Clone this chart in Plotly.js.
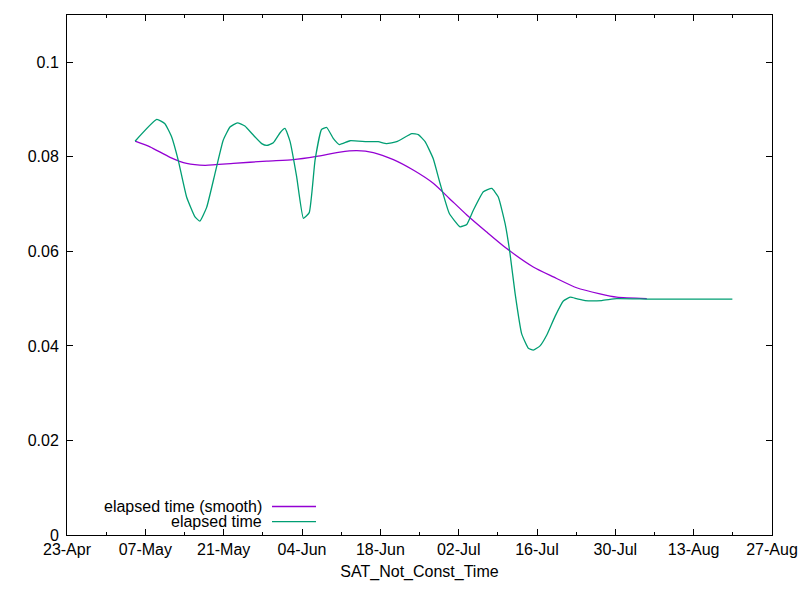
<!DOCTYPE html>
<html>
<head>
<meta charset="utf-8">
<script src="https://cdn.plot.ly/plotly-3.0.1.min.js"></script>
<style>
  html, body { margin: 0; padding: 0; background: #fff; }
  #chart { width: 800px; height: 600px; }
</style>
</head>
<body>
<div id="chart"></div>
<script>
// values
var rawDates = [
  '2023-05-05 04:00', '2023-05-09 01:00', '2023-05-10 12:00', '2023-05-11 17:00',
  '2023-05-12 21:00', '2023-05-14 09:00', '2023-05-15 21:00', '2023-05-16 18:00',
  '2023-05-17 23:00', '2023-05-19 11:00', '2023-05-20 22:00', '2023-05-22 03:00',
  '2023-05-23 11:00', '2023-05-24 19:00', '2023-05-26 07:00', '2023-05-27 19:00',
  '2023-05-28 17:00', '2023-05-29 21:00', '2023-05-31 02:00', '2023-05-31 23:00',
  '2023-06-01 21:00', '2023-06-03 01:00', '2023-06-04 06:00', '2023-06-05 07:00',
  '2023-06-06 08:00', '2023-06-07 12:00', '2023-06-08 10:00', '2023-06-09 14:00',
  '2023-06-10 16:00', '2023-06-12 14:00', '2023-06-15 14:00', '2023-06-17 15:00',
  '2023-06-19 03:00', '2023-06-20 22:00', '2023-06-23 15:00', '2023-06-24 19:00',
  '2023-06-26 00:00', '2023-06-27 11:00', '2023-06-28 16:00', '2023-06-30 08:00',
  '2023-07-02 06:00', '2023-07-03 11:00', '2023-07-04 15:00', '2023-07-06 10:00',
  '2023-07-07 22:00', '2023-07-09 02:00', '2023-07-10 07:00', '2023-07-11 04:00',
  '2023-07-12 02:00', '2023-07-13 06:00', '2023-07-14 11:00', '2023-07-15 08:00',
  '2023-07-16 13:00', '2023-07-17 18:00', '2023-07-19 05:00', '2023-07-20 17:00',
  '2023-07-21 22:00', '2023-07-23 02:00', '2023-07-24 14:00', '2023-07-27 14:00',
  '2023-07-30 06:00', '2023-08-05 05:00', '2023-08-19 22:00'
];
var rawTime = [
  0.0833, 0.0879, 0.0870, 0.0842, 0.0793, 0.0715, 0.0673, 0.0664,
  0.0693, 0.0765, 0.0835, 0.0863, 0.0872, 0.0865, 0.0846, 0.0828,
  0.0824, 0.0830, 0.0851, 0.0860, 0.0832, 0.0758, 0.0670, 0.0682,
  0.0793, 0.0858, 0.0862, 0.0839, 0.0826, 0.0834, 0.0832, 0.0832,
  0.0828, 0.0832, 0.0849, 0.0847, 0.0832, 0.0796, 0.0744, 0.0680,
  0.0652, 0.0657, 0.0687, 0.0726, 0.0733, 0.0715, 0.0659, 0.0596,
  0.0511, 0.0426, 0.0395, 0.0391, 0.0400, 0.0423, 0.0462, 0.0495,
  0.0503, 0.0500, 0.0496, 0.0496, 0.0500, 0.0499, 0.0499
];

var smoothDates = [
  '2023-05-05 04:00', '2023-05-07 20:00', '2023-05-11 10:00', '2023-05-14 09:00',
  '2023-05-17 16:00', '2023-05-22 17:00', '2023-05-28 17:00', '2023-06-02 11:00',
  '2023-06-06 15:00', '2023-06-10 19:00', '2023-06-13 19:00', '2023-06-16 18:00',
  '2023-06-20 08:00', '2023-06-23 21:00', '2023-06-27 11:00', '2023-06-30 08:00',
  '2023-07-03 11:00', '2023-07-07 00:00', '2023-07-10 14:00', '2023-07-15 08:00',
  '2023-07-18 22:00', '2023-07-23 02:00', '2023-07-27 06:00', '2023-07-30 06:00',
  '2023-08-04 15:00'
];
var smoothTime = [
  0.0833, 0.0821, 0.0799, 0.0786, 0.0782, 0.0786, 0.0791, 0.0794,
  0.0801, 0.0810, 0.0813, 0.0809, 0.0794, 0.0772, 0.0744, 0.0712,
  0.0677, 0.0641, 0.0606, 0.0567, 0.0546, 0.0523, 0.0510, 0.0503,
  0.0500
];

var seriesNames = ['elapsed time (smooth)', 'elapsed time'];
var seriesColors = ['#9400d3', '#009e73'];

var DAY = 86400000;
var font = { family: 'Liberation Sans, Arial, sans-serif', size: 16, color: '#000' };

var smooth = {
  x: smoothDates,
  y: smoothTime,
  type: 'scatter',
  mode: 'lines',
  name: seriesNames[0],
  line: { color: seriesColors[0], width: 1.3, shape: 'spline', smoothing: 0.6 }
};

var raw = {
  x: rawDates,
  y: rawTime,
  type: 'scatter',
  mode: 'lines',
  name: seriesNames[1],
  line: { color: seriesColors[1], width: 1.3, shape: 'spline', smoothing: 0.4 }
};

// legend drawn by hand so the text sits left of the line sample, like gnuplot
var legendRows = [0.0548, 0.0259];
var annotations = [];
var shapes = [];
for (var i = 0; i < seriesNames.length; i++) {
  annotations.push({
    xref: 'paper', yref: 'paper', x: 0.2794, y: legendRows[i],
    xanchor: 'right', yanchor: 'middle', showarrow: false,
    text: seriesNames[i], font: font
  });
  shapes.push({
    type: 'line', xref: 'paper', yref: 'paper',
    x0: 0.2908, x1: 0.3532, y0: legendRows[i], y1: legendRows[i],
    line: { color: seriesColors[i], width: 1.3 }
  });
}

var layout = {
  width: 800,
  height: 600,
  margin: { l: 67, r: 28, t: 15, b: 65 },
  paper_bgcolor: '#fff',
  plot_bgcolor: '#fff',
  showlegend: false,
  font: font,
  xaxis: {
    type: 'date',
    range: ['2023-04-23', '2023-08-27'],
    tick0: '2023-04-23',
    dtick: 14 * DAY,
    tickformat: '%d-%b',
    ticks: 'inside',
    ticklen: 6,
    tickcolor: '#000',
    minor: { ticks: 'inside', dtick: 7 * DAY, ticklen: 3, tickcolor: '#000', showgrid: false },
    showline: true,
    linecolor: '#000',
    linewidth: 1,
    mirror: 'ticks',
    showgrid: false,
    zeroline: false,
    tickfont: font,
    title: { text: 'SAT_Not_Const_Time', font: font, standoff: 8 }
  },
  yaxis: {
    range: [0, 0.11],
    tick0: 0,
    dtick: 0.02,
    ticks: 'inside',
    ticklen: 6,
    tickcolor: '#000',
    showline: true,
    linecolor: '#000',
    linewidth: 1,
    mirror: 'ticks',
    showgrid: false,
    zeroline: false,
    tickfont: font,
    ticklabelstandoff: 4
  },
  annotations: annotations,
  shapes: shapes
};

Plotly.newPlot('chart', [smooth, raw], layout, { displayModeBar: false, staticPlot: true });
</script>
</body>
</html>
